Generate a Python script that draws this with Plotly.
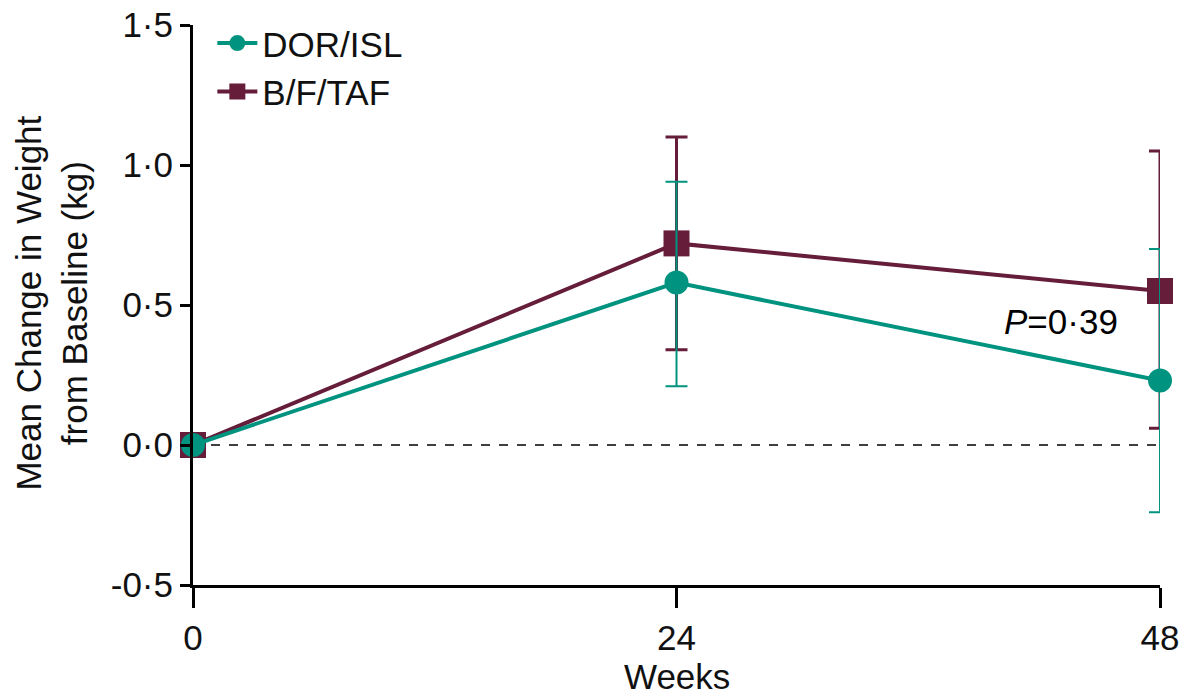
import plotly.graph_objects as go

weeks = [0, 24, 48]
dor_mean = [0.0, 0.58, 0.23]
dor_upper = [0.0, 0.94, 0.70]
dor_lower = [0.0, 0.21, -0.24]
bft_mean = [0.0, 0.72, 0.55]
bft_upper = [0.0, 1.10, 1.05]
bft_lower = [0.0, 0.34, 0.06]
ytick_vals = [-0.5, 0.0, 0.5, 1.0, 1.5]
ytick_text = ["-0·5", "0·0", "0·5", "1·0", "1·5"]
xtick_vals = [0, 24, 48]

TEAL = "#00937f"
MAROON = "#651d3a"
FONT = "Liberation Sans, Arial, sans-serif"
FS = 35

def err(mean, up, lo):
    plus = [u - m for u, m in zip(up, mean)]
    minus = [m - l for m, l in zip(mean, lo)]
    return plus, minus

bp, bm = err(bft_mean, bft_upper, bft_lower)
dp, dm = err(dor_mean, dor_upper, dor_lower)

fig = go.Figure()
fig.add_shape(type="line", xref="x", yref="y", x0=0, x1=48, y0=0, y1=0,
              line=dict(color="black", width=1.5, dash="dash"), layer="below")

fig.add_trace(go.Scatter(
    x=weeks, y=bft_mean, name="B/F/TAF", mode="lines+markers",
    line=dict(color=MAROON, width=4),
    marker=dict(symbol="square", size=26, color=MAROON),
    error_y=dict(type="data", symmetric=False, array=bp, arrayminus=bm,
                 color=MAROON, thickness=3, width=11),
    cliponaxis=False,
))
fig.add_trace(go.Scatter(
    x=weeks, y=dor_mean, name="DOR/ISL", mode="lines+markers",
    line=dict(color=TEAL, width=4),
    marker=dict(symbol="circle", size=24, color=TEAL),
    error_y=dict(type="data", symmetric=False, array=dp, arrayminus=dm,
                 color=TEAL, thickness=2, width=11),
    cliponaxis=False,
))

fig.add_annotation(x=46.0, y=0.44, xref="x", yref="y", text="<i>P</i>=0·39",
                   showarrow=False, xanchor="right", yanchor="middle",
                   font=dict(size=FS, color="black", family=FONT))
fig.add_annotation(x=24, y=-0.164, xref="x", yref="paper", text="Weeks",
                   showarrow=False, xanchor="center", yanchor="middle",
                   font=dict(size=FS, color="#111", family=FONT))
fig.add_annotation(x=-0.146, y=0.504, xref="paper", yref="paper",
                   text="Mean Change in Weight<br>from Baseline (kg)",
                   textangle=-90, showarrow=False, xanchor="center", yanchor="middle",
                   font=dict(size=FS, color="#111", family=FONT))

fig.update_layout(
    width=1185, height=688,
    margin=dict(l=185, r=33, t=17, b=111, autoexpand=False),
    paper_bgcolor="white", plot_bgcolor="white",
    font=dict(family=FONT, size=FS, color="#111"),
    showlegend=True,
    legend=dict(x=0.02, y=1.02, xanchor="left", yanchor="top",
                traceorder="reversed", font=dict(size=FS),
                bgcolor="rgba(0,0,0,0)", itemwidth=40),
    xaxis=dict(range=[0, 48], tickvals=xtick_vals, showline=True, linecolor="black",
               linewidth=3, ticks="outside", ticklen=20, tickwidth=3, tickcolor="black",
               showgrid=False, zeroline=False, tickfont=dict(size=FS),
               ticklabeloverflow="allow", automargin=False),
    yaxis=dict(range=[-0.5, 1.5], tickvals=ytick_vals, ticktext=ytick_text, showline=True,
               linecolor="black", linewidth=3, ticks="outside", ticklen=10, tickwidth=3,
               tickcolor="black", showgrid=False, zeroline=False, tickfont=dict(size=FS),
               ticklabeloverflow="allow", automargin=False),
)

fig.write_html("out.html")
